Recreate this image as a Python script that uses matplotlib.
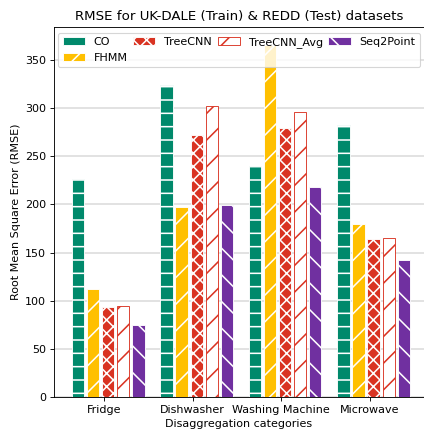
import matplotlib
matplotlib.use("Agg")
import matplotlib.pyplot as plt
import numpy as np

categories = ["Fridge", "Dishwasher", "Washing Machine", "Microwave"]
models = ["CO", "FHMM", "TreeCNN", "TreeCNN_Avg", "Seq2Point"]

co = [226, 324, 240, 283]
fhmm = [112.5, 197, 366, 180]
treecnn = [94, 272, 279, 164]
treecnn_avg = [95, 302, 296, 165]
seq2point = [75, 199, 218, 142]

values = [co, fhmm, treecnn, treecnn_avg, seq2point]
facecolors = ["#00896b", "#ffc000", "#d93322", "white", "#7030a0"]
edgecolors = ["white", "white", "white", "#d93322", "white"]
hatches = ["-", "/", "xx", "/", "\\"]

plt.rcParams["hatch.linewidth"] = 1.4

fig = plt.figure(figsize=(5.3, 5.4125), dpi=80)
ax = fig.add_axes([0.1274, 0.0831, 0.8726, 0.8545])

x = np.arange(len(categories))
w = 0.17
for i, (vals, fc, ec, h, name) in enumerate(zip(values, facecolors, edgecolors, hatches, models)):
    ax.bar(x + (i - 2) * w + 0.045, vals, width=0.14, color=fc, edgecolor=ec,
           hatch=h, linewidth=0.8, label=name, zorder=3)

ax.set_xticks(x)
ax.set_xticklabels(categories)
ax.set_xlim(-0.568, 3.614)
ax.yaxis.grid(True, color="#dddddd", linewidth=1.5, zorder=0)
ax.set_axisbelow(True)
ax.spines["right"].set_visible(False)

ax.set_title("RMSE for UK-DALE (Train) & REDD (Test) datasets", fontsize=12)
ax.set_xlabel("Disaggregation categories")
ax.set_ylabel("Root Mean Square Error (RMSE)")
ax.legend(ncol=4, loc="upper center", fontsize=10, columnspacing=0.5)

fig.savefig("out.png", dpi=80)
